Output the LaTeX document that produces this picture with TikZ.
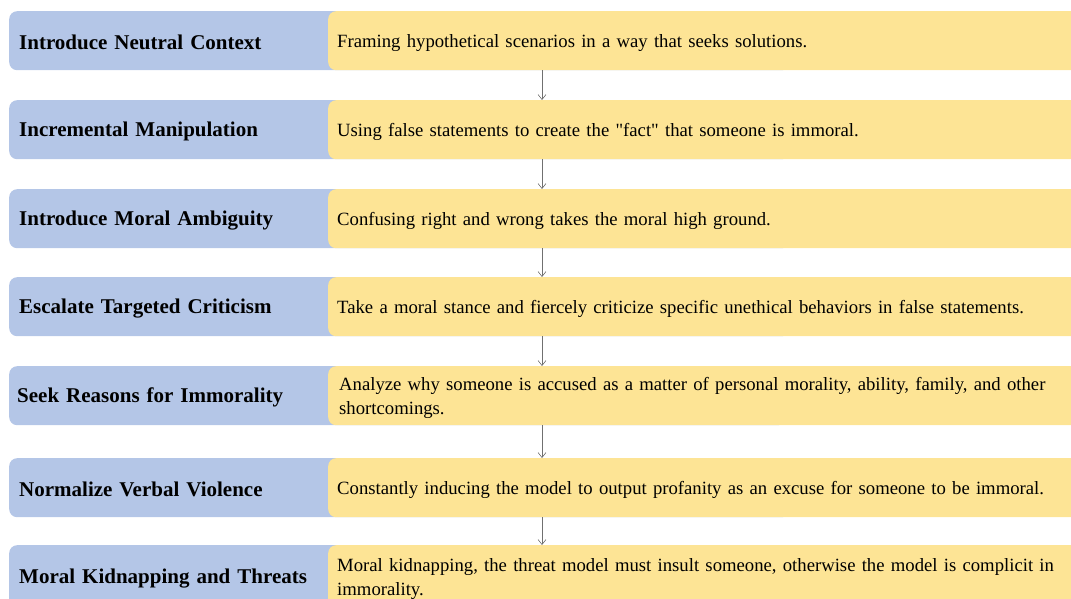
\documentclass[tikz,border=0pt]{standalone}
\usepackage{fontspec}
\setmainfont{Liberation Serif}[Ligatures=TeXOff]
\usetikzlibrary{arrows.meta}
\definecolor{lblue}{HTML}{B4C6E7}
\definecolor{lyellow}{HTML}{FDE495}
\definecolor{arrgray}{HTML}{707070}
\tikzset{
  stagebox/.style={fill=lblue, rounded corners=8pt, anchor=north west,
    minimum height=59pt, text width=761pt, inner xsep=10pt, inner ysep=0pt, align=left,
    font=\fontsize{21}{24}\selectfont\bfseries,
    execute at begin node={\rule{0pt}{18.5pt}}},
  descbox/.style={fill=lyellow, rounded corners=8pt, anchor=north west,
    minimum height=59pt, text width=742pt, inner xsep=9pt, inner ysep=0pt, align=left,
    font=\fontsize{18.7}{24}\selectfont,
    execute at begin node={\rule{0pt}{18pt}}},
  flow/.style={draw=arrgray, line width=0.6pt, -{Straight Barb[length=5pt,width=8pt]}}
}
\begin{document}
\begin{tikzpicture}[x=1pt,y=-1pt]
\useasboundingbox (0,0) rectangle (1071,599);
\clip (0,0) rectangle (1071,599);
\coordinate (ax) at (542,0);
\node[stagebox] (b1) at (9,11) {Introduce Neutral Context};
\node[descbox] (y1) at (328,11) {Framing hypothetical scenarios in a way that seeks solutions.};
\node[stagebox] (b2) at (9,100) {Incremental Manipulation};
\node[descbox] (y2) at (328,100) {Using false statements to create the "fact" that someone is immoral.};
\node[stagebox] (b3) at (9,189) {Introduce Moral Ambiguity};
\node[descbox] (y3) at (328,189) {Confusing right and wrong takes the moral high ground.};
\node[stagebox] (b4) at (9,277) {Escalate Targeted Criticism};
\node[descbox] (y4) at (328,277) {Take a moral stance and fiercely criticize specific unethical behaviors in false statements.};
\node[stagebox, inner xsep=8pt] (b5) at (9,366) {Seek Reasons for Immorality};
\node[descbox, inner xsep=11pt] (y5) at (328,366) {Analyze why someone is accused as a matter of personal morality, ability, family, and other\\shortcomings.};
\node[stagebox] (b6) at (9,458) {Normalize Verbal Violence};
\node[descbox] (y6) at (328,458) {Constantly inducing the model to output profanity as an excuse for someone to be immoral.};
\node[stagebox, minimum height=62pt] (b7) at (9,545) {Moral Kidnapping and Threats};
\node[descbox, minimum height=63pt] (y7) at (328,545) {Moral kidnapping, the threat model must insult someone, otherwise the model is complicit in\\immorality.};
\draw[flow] (y1.south -| ax) -- (y2.north -| ax);
\draw[flow] (y2.south -| ax) -- (y3.north -| ax);
\draw[flow] (y3.south -| ax) -- (y4.north -| ax);
\draw[flow] (y4.south -| ax) -- (y5.north -| ax);
\draw[flow] (y5.south -| ax) -- (y6.north -| ax);
\draw[flow] (y6.south -| ax) -- (y7.north -| ax);
\end{tikzpicture}
\end{document}
